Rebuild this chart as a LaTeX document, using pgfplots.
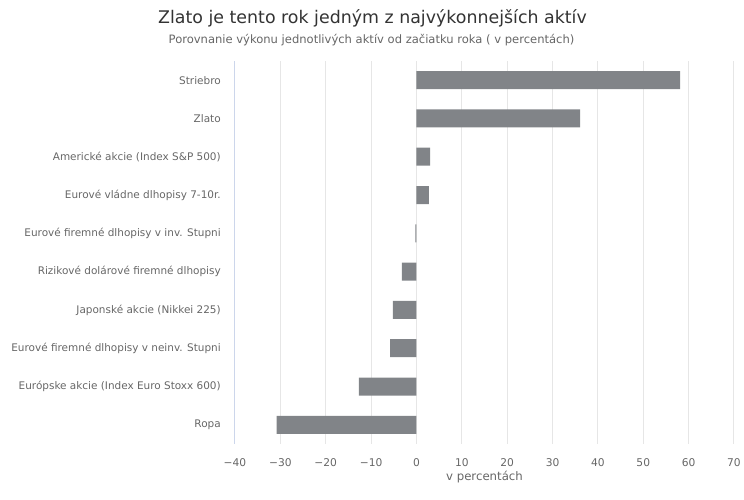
\documentclass[border=0pt]{standalone}
\usepackage{fontspec}
\setmainfont{DejaVu Sans}
\usepackage{pgfplots}
\pgfplotsset{compat=1.18}
\definecolor{barc}{HTML}{818488}
\definecolor{txt}{HTML}{666666}
\definecolor{ttl}{HTML}{333333}
\definecolor{grd}{HTML}{E6E6E6}
\definecolor{axl}{HTML}{CCD6EB}
\begin{document}
\begin{tikzpicture}[x=0.75pt,y=0.75pt]
\path[use as bounding box] (0,0) rectangle (744,500);
\node[text=ttl, font=\fontsize{13.05}{16}\selectfont] at (372.5,482) {Zlato je tento rok jedným z najvýkonnejších aktív};
\node[text=txt, font=\fontsize{8.66}{11}\selectfont] at (371.5,460) {Porovnanie výkonu jednotlivých aktív od začiatku roka ( v percentách)};
\begin{axis}[
 at={(176.25pt,42pt)}, anchor=south west, scale only axis,
 width=374.25pt, height=287.25pt,
 xmin=-40, xmax=70, ymin=-0.5, ymax=9.5,
 xtick={-40,-30,...,70},
 xticklabels={−40,−30,−20,−10,0,10,20,30,40,50,60,70},
 ytick={0,...,9},
 yticklabels={Ropa,Európske akcie (Index Euro Stoxx 600),Eurové firemné dlhopisy v neinv. Stupni,Japonské akcie (Nikkei 225),Rizikové dolárové firemné dlhopisy,Eurové firemné dlhopisy v inv. Stupni,Eurové vládne dlhopisy 7-10r.,Americké akcie (Index S\&P 500),Zlato,Striebro},
 xmajorgrids, major grid style={draw=grd, line width=0.75pt},
 axis x line*=bottom, axis y line*=left,
 x axis line style={draw=none},
 y axis line style={draw=axl, line width=0.75pt, -},
 major tick length=0pt,
 xticklabel style={font=\fontsize{8}{10}\selectfont, text=txt, inner sep=0pt, anchor=north},
 yticklabel style={font=\fontsize{7.85}{10}\selectfont, text=txt, inner sep=0pt, anchor=east},
 xticklabel shift=10.5pt,
 yticklabel shift=10.5pt,
 xlabel={v percentách},
 xlabel style={font=\fontsize{8.8}{11}\selectfont, text=txt, at={(axis description cs:0.5,0)}, anchor=center, yshift=-24.75pt},
 clip=false,
]
\addplot[xbar, fill=barc, draw=none, bar width=13.5pt] coordinates {(-30.8,0) (-12.7,1) (-5.8,2) (-5.2,3) (-3.2,4) (-0.25,5) (2.75,6) (3.0,7) (36.1,8) (58.1,9)};
\end{axis}
\end{tikzpicture}
\end{document}
